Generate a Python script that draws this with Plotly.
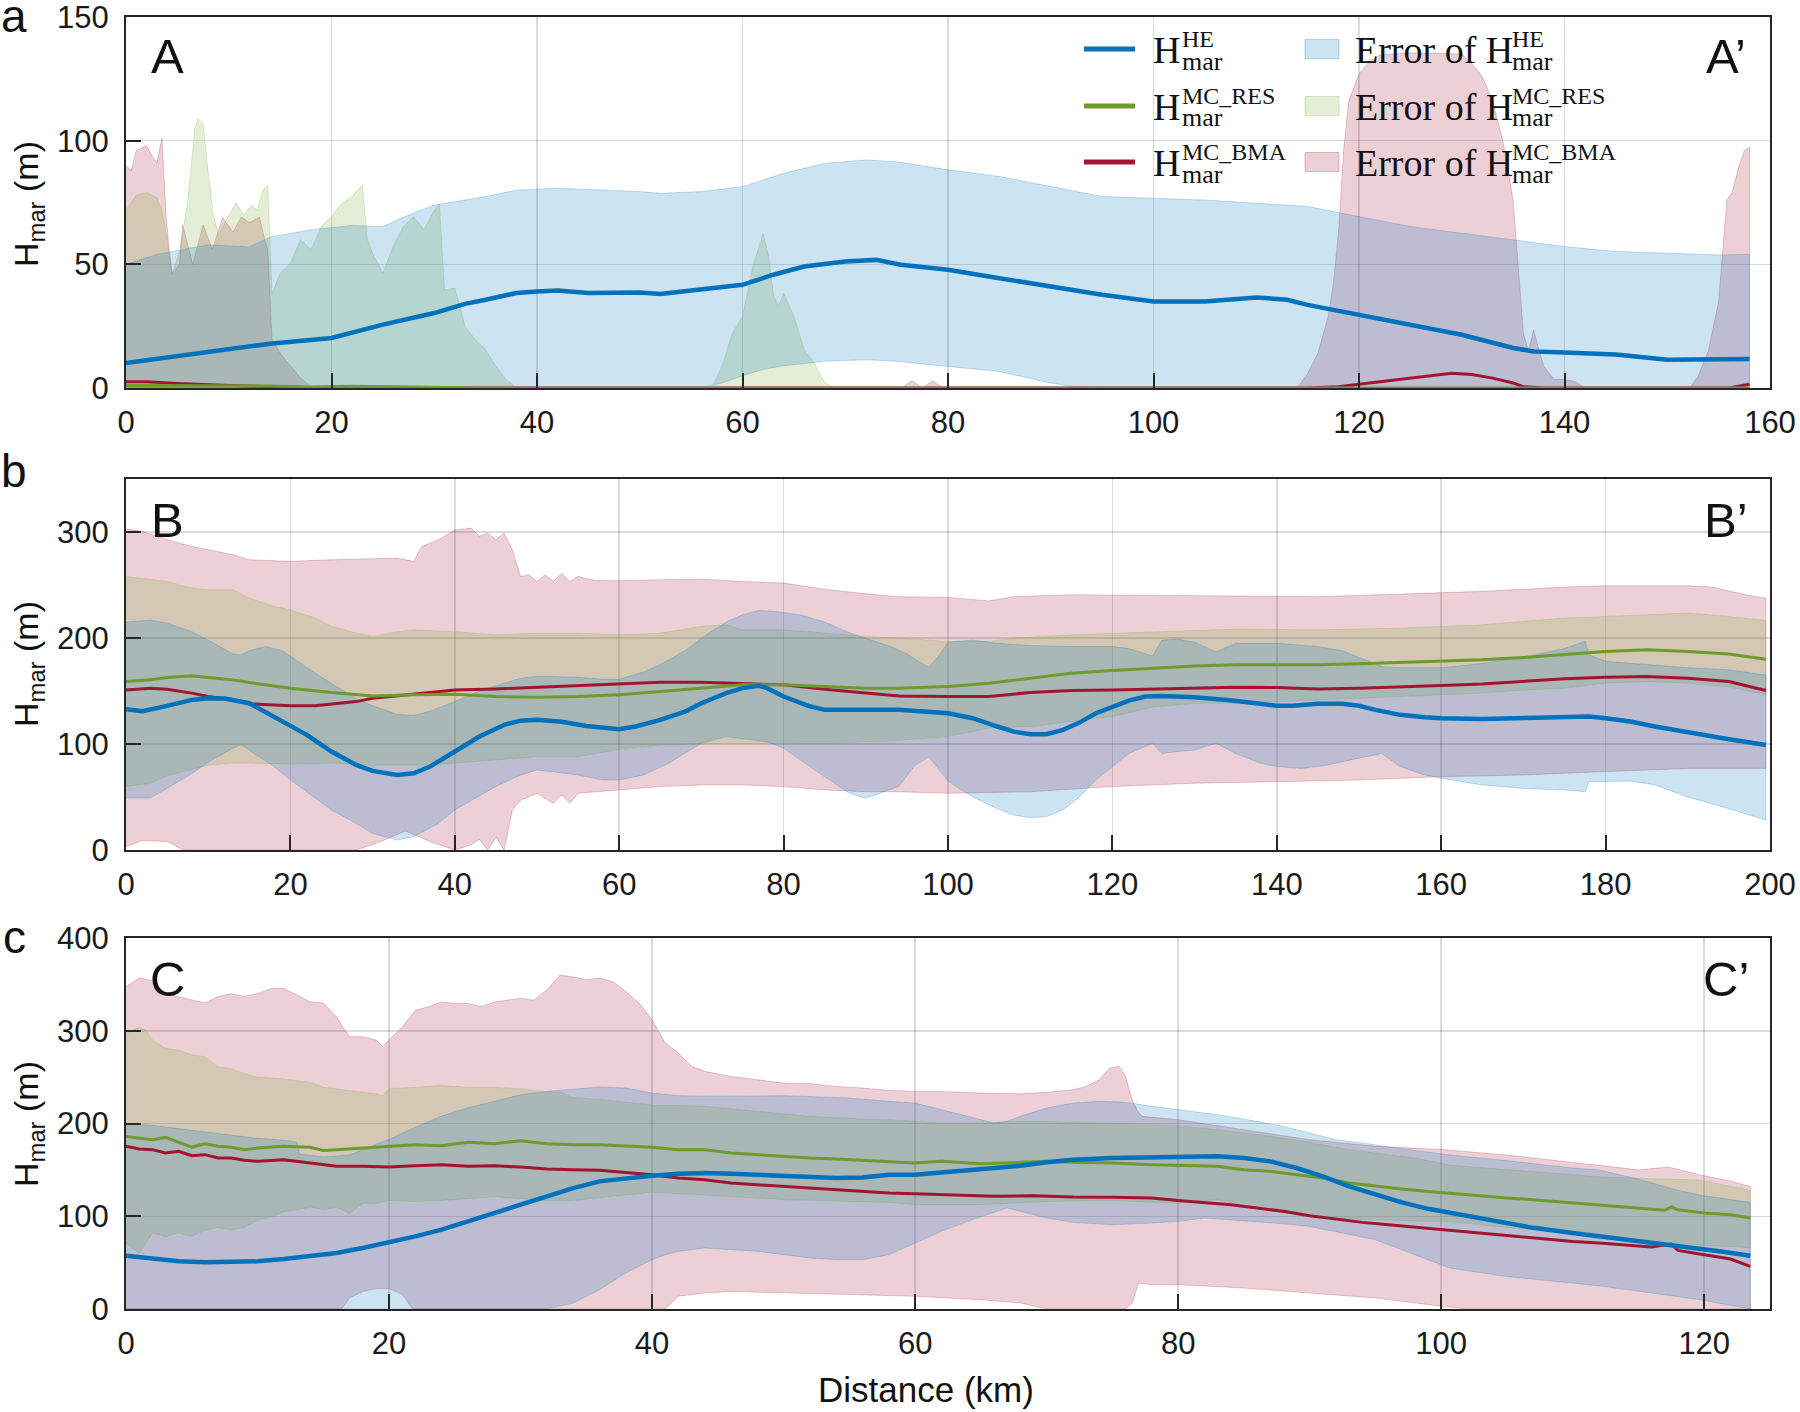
import plotly.graph_objects as go

# ---------------- Panel a ----------------
AX_HE = [0,5,10,14,20,25,30,33,35,38,40,42,45,48,50,52,55,58,60,63,66,70,73,75.4,80,85,90,95,100,105,110,113,115,120,125,130,135,137,140,145,150,155,158]
A_HE = [10.1,13,15.7,17.9,20.2,25.6,30.3,34,35.7,38.4,39,39.4,38.4,38.6,38.6,38,39.4,40.4,41.7,45.8,49.1,51.1,51.8,49.8,47.8,44.4,41,37.7,35,35,36.6,35.7,33.6,29.6,25.6,21.5,16.2,14.8,14.4,13.5,11.4,11.4,11.7]
AX_RES = [0,5,10,14,18,22,26,30,34,158]
A_RES = [1,1,1,0.8,0.4,0.7,0.5,0.3,0,0]
AX_BMA = [0,2,5,8,10,15,18,115,118,120,123,126,129,131,133,135,136,138,156,158]
A_BMA = [2.5,2.5,1.8,1.2,1,0.5,0,0,0.5,1.5,3,4.5,6,5.5,4,2,0.5,0,0,1.5]

AX_HE_UP = [0,3,8,12,14,18,22,25,27,30,35,38,42,50,52,56,60,64,68,72,75,80,85,90,95,100,105,110,115,120,125,130,135,140,145,150,155,158]
A_HE_UP = [50,54,57.9,57,61,64,65.7,65.3,69,74,77.4,80,80.8,79.4,78.7,79.4,81.4,86.8,90.8,92.2,91.5,88.2,85.5,81.4,77.4,76.7,76,74.7,73.4,69.3,65.3,62.6,59.9,57.2,55.2,54.5,53.8,54]
AX_HE_LO = [0,56,58,60,62,64,65,68,72,75,80,85,90,92,95,158]
A_HE_LO = [0,0,2,5,7.5,9,9.4,10.8,11.4,10.8,8.7,6.7,2,0.7,0,0]

AX_RES_UP = [0,1,2,3,3.5,4,4.5,5.2,6,6.7,7,7.5,8,8.5,9,9.5,10,10.7,11.5,12.2,12.8,13.3,13.8,14.2,15,16,17,18,19,20,21,22,23,23.5,24,25,26,27,28,29,30,30.5,31,32,33,34,35,36,37,38,57,58,59,60,61,62,62.5,63,63.5,64,65,66,67,68,69,158]
A_RES_UP = [72,78,79,77,72,60,46,55,75,105,109,107,87,70,62,66,70,75,70,74,72,80,82,38,46.4,50.5,60,55.9,65.3,69.3,74.7,77.4,82.1,60,54.5,46.4,57.2,65.3,69.3,64,72,74.4,39.7,40.4,24.9,19.5,15.5,8.7,3.4,0,0,8.7,22,29,49,62.6,54,38,33,38.4,29,15.5,10,2,0,0]
AX_RES_LO = [0,158]
A_RES_LO = [0,0]

AX_BMA_UP = [0,0.5,1,2,2.5,3,3.5,3.9,4.2,4.5,5.2,5.5,6.5,7.5,8.4,9.4,10.4,11.2,12,13,13.5,13.8,14.2,15,16,17,18,18.5,
             75.5,76.5,77.5,78.5,79.5,
             114,115,116,117,117.5,118,118.5,119,120,121,122,125,130,131,132,133,134,135,135.5,136,136.5,137,137.5,138,139,140,141,142,
             152.2,153,154,155,155.8,156.3,157,157.5,158]
A_BMA_UP = [90,88,96,98,94,91,101,70,56,46,50,66,50,66,56,69,63,69,67,69,60,56,20,14,9,4,0.5,0,
            0,3,0,3,0,
            0,6,14,29,42,62.6,96,116,127,132,134.6,135.5,135,131,126,116,100,76,49,22,15,23.5,15.5,8.7,3.4,3.4,2.7,0,
            0,5,15,35,76,79,90,96,97.5]
AX_BMA_LO = [0,158]
A_BMA_LO = [0,0]

# ---------------- Panel b ----------------
BX_HE = [0,2,5,8,10,12,15,18,20,22,25,28,30,33,35,37,40,43,46,48,50,53,56,60,62,65,68,70,73,75,77,78,80,83,85,87,90,94,100,103,106,108,110,112,114,116,118,120,122,124,126,130,134,138,140,142,145,148,150,152,155,158,160,165,170,175,178,180,183,186,190,195,199.5]
B_HE = [132.8,131,136,141.6,143.2,143,138.5,126,118,108.6,92.9,80.3,74.6,70.8,72.4,78.7,92.9,107,118,122,122.8,121,117,114,116.5,122.8,130.6,138.5,148,152.7,154.9,152.7,144.8,136,132.2,132.2,132.8,132.2,129,124.3,116.5,111.7,109.2,109.2,113.3,120.2,129,135.3,141,144.8,145.4,144.2,141.6,137.9,136,136,137.9,137.9,136,132.2,127.5,125.3,124.3,123.7,124.3,125.3,126,124.3,121.2,116.5,110.8,104.5,99]
BX_RES = [0,3,5,8,10,13,15,18,20,25,28,30,35,40,45,50,55,60,65,70,75,80,85,90,94,100,105,110,115,120,125,130,135,140,145,150,155,160,165,170,175,178,180,185,190,195,199.5]
B_RES = [159,160.5,162.7,164.3,162.7,160.5,158,154.9,152.7,148.6,146.4,145.4,146.4,147,144.8,144.2,144.8,146.4,149.5,152.7,155.8,155.8,154.2,152.7,152.7,154.2,157.4,162,166.8,169.3,171.5,173.7,174.7,174.7,174.7,175.6,176.9,178.5,179.4,181.6,184.1,186.3,187.3,188.8,187.3,185,180]
BX_BMA = [0,3,5,8,10,13,15,18,20,23,25,28,30,35,40,45,50,55,60,65,70,75,80,85,90,94,100,105,110,115,120,125,130,135,140,145,150,155,160,165,170,175,180,185,190,195,199.5]
B_BMA = [151,152.7,151.7,148,144.8,141.6,137.9,136.9,136,136,137.5,140,143.2,147,151,152,153.6,154.9,156.4,158.3,158.3,157.4,155.8,151.7,148,145.4,144.8,144.8,148.6,150.5,151,152,153.3,153.6,153.3,152,152.7,153.6,155.2,156.7,159,161.5,163,163.7,162,159,150.5]

BX_BMA_UP = [0,2,5,8,10,13,15,18,20,25,30,33,35,36,38,40,42,43,44,45,46,47,48,49,50,51,52,53,54,55,57,60,65,70,75,80,85,90,94,100,105,108,115,125,135,145,155,165,175,180,190,193,197,199.5]
B_BMA_UP = [303,300.6,292.7,286.4,283.3,278.6,273.8,273.2,272.3,273.8,274.5,275.4,272.3,286.4,292.7,302,303.7,296,299,292.7,299,283,258,259.7,253.4,259.7,253.4,261,253.4,258,254.3,254,255,255.6,253.4,251.8,246,241.7,239,238.3,235,239,240.8,240.2,240.2,239,241.4,244,248,249.3,249.3,248,240.8,237.6]
BX_BMA_LO = [0,2,5,7,28,31,34,37,40,42,43,44,45,46,47,48,50,52,53,54,55,57,60,65,70,75,80,85,90,94,100,110,120,130,140,150,160,170,180,190,199.5]
B_BMA_LO = [3,9,8,0,0,8,18,8,0,5,10,0,12,0,37.8,47,53.5,44,52,44,53.5,55,56.7,59.8,61.4,61.4,59.8,56.7,55,55,53.5,55,59.8,63,64.5,66,69.2,70.8,74,77,77]

BX_RES_UP = [0,3,5,8,10,13,15,18,20,23,25,28,30,33,35,40,45,50,55,60,65,70,73,75,80,85,90,94,100,105,108,115,125,135,145,155,165,175,180,185,190,195,199.5]
B_RES_UP = [258,255,253.4,247,245.5,245.5,237.6,229.8,226.6,218.8,211,204.6,201.4,206,207.7,206,203,204.6,204.6,203,204.6,211,212.5,207.7,207.7,204.6,201.4,200,196.7,196.7,200,203,206,208.4,207.7,209.3,212.5,218.8,220.3,222,223.5,220.3,216.6]
BX_RES_LO = [0,3,5,8,10,13,15,20,25,30,35,40,45,50,55,60,65,70,75,80,85,90,95,100,105,110,115,120,125,130,135,140,145,150,155,160,165,170,175,180,185,190,195,199.5]
B_RES_LO = [60,63,70,76,80,82,82,81,82,80,80,82,85,88,88,95,99,100,100,101,100,102,104,107,115,116.5,121,126,135,138.5,138.5,140,141,143,144.8,146.4,148,151,152.7,157.4,159,157.4,154,146.4]

BX_HE_UP = [0,3,5,8,10,13,14,15,17,19,20,22,25,28,30,33,35,37,40,43,45,48,50,55,58,60,63,65,68,70,73,75,77,79,82,85,88,90,93,95,97.7,99,100,103,106,110,115,120,122,124.9,126,128,130,132.6,135,140,145,148,150,152.8,155,160,165,170,175,177.5,178,180,185,190,195,199.5]
B_HE_UP = [215,217,214,206,198,185,184,188,192,188,183,172,157,143,136,128,127,131,140,150,155,162,164,163,161,161,168,175,188,200,215,222,226,225,222,215,205,200,192,185,172,185,196,198,195,193,192,192,190,183,198,199,196,187,195,195,192,188,182,173,172,172,176,182,190,197,184,178,175,172,170,165]
BX_HE_LO = [0,3,5,8,10,13,14,15,18,20,25,28,30,33,35,38,40,45,48,50,55,58,60,63,66,70,73,75,78,80,85,88,90,94,96,97.7,99,100,103,106,108,110,112,114,116,118,120,122,124.9,126,128,130,132.6,135,138,140,143,146,150,152.8,155,158,160,165,170,175,177.5,178,180,183,186,190,195,199.5]
B_HE_LO = [49,49,58,72,83,96,99,94,78.7,66,37.8,25,15.7,9.4,12.6,25,37.8,60,70.8,75.5,70.8,66,66,70.8,81.8,100.7,107,105,102,96,69,53.5,48.8,60,80,88,75,65,50,39,33,30.5,31.5,37.8,50,66,78.7,91,100.7,91,93,94.4,100.7,91,81.8,78.7,77,80,86.6,91,78.7,70.8,67.7,61.4,58,56.7,55,64.5,64.5,65,61.4,50,39,28.3]

# ---------------- Panel c ----------------
CX_HE = [0,2,4,6,8,10,12,14,16,18,20,22,24,26,28,30,32,34,36,38,40,42,44,46,48,50,52,54,56,58,60,63,66,68,70,72,75,78,80,83,85,87,89,91,93,95,97,99,101,103,105,107,110,113,116,119,121,123.5]
C_HE = [57.5,53.9,51.4,50.3,50.3,51.4,53.9,56.8,60.4,65.8,71.9,78.3,85.5,94.5,103.5,112.5,121.5,130.4,137.6,141.2,143.7,145.9,146.6,145.9,144.8,143,141.9,141.2,141.9,144.8,144.8,148.4,150.9,154.5,158.1,161,162.8,163.5,163.9,164.6,162.8,159.2,152,143,132.2,123,115,108,103,97.5,92,87.5,82,77,71,66,62.5,57.5]
CX_RES = [0,1,2,3,4,5,6,7,8,9,10,12,14,15,16,18,20,22,24,26,28,30,32,34,36,38,40,42,44,46,48,50,52,54,56,58,60,62,65,68,70,72,75,78,80,83,85,87,89,91,93,95,97,99,101,103,105,107,110,113,115,117,117.5,118,120,122,123.5]
C_RES = [186,184,182.5,185,179.7,174.6,178.2,175.4,174.3,171.8,173.6,175.4,174.3,171,171.8,173.6,175.4,177,176,179.7,178.2,181.5,178.2,177,177,175.4,174.3,171.8,171.8,168.2,166.4,163.9,162.8,161.7,160.3,159.2,157.4,159.2,156.7,158.1,159.2,158.1,157.4,155.6,154.9,153.8,150.2,148.4,144.8,141.2,135.8,132.2,129.4,126.8,124.3,122.2,119.7,117.9,114.3,110.7,108.9,106.4,110,107,103.5,101.7,98.1]
CX_BMA = [0,1,2,3,4,5,6,7,8,9,10,12,14,16,18,20,22,24,26,28,30,32,34,36,38,40,42,44,46,48,50,52,54,56,58,60,63,66,69,72,75,78,80,82,84,86,88,90,92,94,96,98,100,102,104,106,108,110,112,114,116,117.5,118,120,122,123.5]
C_BMA = [175.4,172.5,171.8,168.2,170,165.3,166.4,162.8,162.8,160.3,159.2,161,157.4,153.8,153.8,153,154.5,155.6,153.8,154.5,153,150.9,150.2,149.5,147.3,144.8,141.2,139.4,135.8,134,132.2,130.4,127.9,126.8,125,124.3,123.2,121.5,122.2,120.7,120.4,119.7,117.1,115,112.5,108.9,105.3,100.6,97,93.4,90.9,88.4,85.5,82.6,80.1,77.6,75.5,72.9,71.1,69.3,66.8,70,63.2,58.6,53.9,46]

CX_BMA_UP = [0,1,2,3,4,5,6,7,8,9,10,11,12,13,14,15,16,16.5,17,18,19,19.5,20,21,22,23,24,25,26,27,28,29,30,31,32,33,34,35,36,37,38,39,40,41,42,43,44,46,48,50,52,54,56,58,60,62,65,68,70,72,73,74,74.8,75.5,76,76.5,77,77.3,80,85,90,95,100,105,110,112,115,117.3,119.7,122,123.5]
C_BMA_UP = [347.5,357,354,340,336.6,333,330,337,340,337,340,345.6,345.6,338.5,331.3,330,315,304,293.5,293.5,290,283,290,304,322,326,331,329.5,329.5,326,331,333,335,333,344,360,358,355,356.8,353.2,342.4,329.9,311.9,286.7,276,261.6,256.2,250.8,247.2,243.6,242.9,240,238.2,235.7,234.6,234.6,232.8,232.1,233.6,236.4,240,247.2,259.8,261.6,250.8,225.6,211.3,207.7,204,193,182.5,175.4,172,166,158,155,150,153,144.5,138,132]
CX_BMA_LO = [0,16.4,17,18,19,20,21,21.8,41,42,44,46,50,55,58,60,65,68,70,76,76.5,77,78,80,85,90,95,100,102,123.5]
C_BMA_LO = [0,0,12,19,22,22,16,0,0,13.7,17.2,19,17.2,15.5,14.4,13.7,10,6.5,0,0,6.5,28,26.2,26.2,22.6,17.2,11.9,2.9,0,0]

CX_RES_UP = [0,1,1.5,2,3,4,5,6,7,8,9,10,12,13,14,15,17,19,19.5,20,22,24,26,28,30,32,33,34,36,38,40,44,48,52,56,58,60,62,65,68,70,72,75,78,80,83,86,88,90,93,95,98,100.7,105,110,112,115,119.7,123.5]
C_RES_UP = [297,304,301,290,281,279,274,272,261,259,254,250,248,246.5,244.6,239,235.5,232,230,237.5,239,241,239,239,237.5,234,234,228,226,223,220,218.5,213,207.7,204.8,204,202.3,200.5,200.5,202.3,202.3,201,200.5,198.7,197.6,193.3,187.9,184.3,179.7,171.8,168.2,162.8,155,150,145,142.6,141,139,128]
CX_RES_LO = [0,1,2,3,4,5,6,7,8,9,10,11,12,13,14,15,16,17,18,19,20,22,24,26,28,30,32,34,40,45,50,55,58,60,65,70,75,80,83,85,88,90,93,95,98,100.7,105,110,112,115,119.7,123.5]
C_RES_LO = [71,60,82,78,82,78.5,85,88,85,88,96,99,105,107,110,107,110,103,114,114,117,116,117,119,121,119,117,117,126,122,118,116,115,112.5,112.5,116,117,114,118,110.7,103.5,100,97,96,95,94,88,82,78,75,69,66]

CX_HE_UP = [0,2,4,6,8,10,12,13,13.2,15,17,18,20,22,24,26,28,30,32,34,36,38,40,42,45,50,55,58,60,62,64,66,67,68,70,72,74,76,78,80,83,86,88,90,92,94,96,98,100.7,105,110,112,115,118,120,123.5]
C_HE_UP = [200,198,194.5,191,187.5,184,182,180,167,164,166,172,183,196,208,217,224,231,234.6,237,239.4,238.2,232.8,230,229.2,230,227.5,223.9,222,214.9,207.7,200.5,202.3,207.7,216.7,222,224,222.8,218.5,214.9,209.5,202.3,196.9,189.7,182.5,179,175.4,171,166,160,152,150,140,128,122,115]
CX_HE_LO = [0,32,34,36,38,40,41,42,44,46,48,50,52,54,56,58,60,62,64,66,67,68,70,72,75,78,80,82,85,88,90,95,100.7,105,112,119.7,123.5]
C_HE_LO = [0,0,6.5,20.8,38.8,53.2,58.6,62.2,65.8,64,62.2,58.6,55,53.2,53.2,58.6,71.1,83.7,94.5,104.2,108.9,105.3,98.1,93.4,90.9,92.7,94.5,98.1,95,92,89,74.7,44,35,25,10,0]

X_TICKS_A = [0,20,40,60,80,100,120,140,160]
X_TICKS_B = [0,20,40,60,80,100,120,140,160,180,200]
X_TICKS_C = [0,20,40,60,80,100,120]
Y_TICKS_A = [0,50,100,150]
Y_TICKS_B = [0,100,200,300]
Y_TICKS_C = [0,100,200,300,400]

SERIES_NAMES = ["HE", "MC_RES", "MC_BMA"]

pairs = [(AX_HE,A_HE),(AX_RES,A_RES),(AX_BMA,A_BMA),(AX_HE_UP,A_HE_UP),(AX_HE_LO,A_HE_LO),
         (AX_RES_UP,A_RES_UP),(AX_RES_LO,A_RES_LO),(AX_BMA_UP,A_BMA_UP),(AX_BMA_LO,A_BMA_LO),
         (BX_HE,B_HE),(BX_RES,B_RES),(BX_BMA,B_BMA),(BX_BMA_UP,B_BMA_UP),(BX_BMA_LO,B_BMA_LO),
         (BX_RES_UP,B_RES_UP),(BX_RES_LO,B_RES_LO),(BX_HE_UP,B_HE_UP),(BX_HE_LO,B_HE_LO),
         (CX_HE,C_HE),(CX_RES,C_RES),(CX_BMA,C_BMA),(CX_BMA_UP,C_BMA_UP),(CX_BMA_LO,C_BMA_LO),
         (CX_RES_UP,C_RES_UP),(CX_RES_LO,C_RES_LO),(CX_HE_UP,C_HE_UP),(CX_HE_LO,C_HE_LO)]
for i, (px_, py_) in enumerate(pairs):
    if len(px_) != len(py_):
        raise ValueError("length mismatch in pair %d: %d vs %d" % (i, len(px_), len(py_)))

# ---------------- styling ----------------
W, H = 1800, 1412
BLUE = (0, 114, 189)
GREEN = (119, 172, 48)
RED = (162, 20, 47)
LINE_GREEN = "rgb(110,155,45)"

def rgba(c, a):
    return "rgba(%d,%d,%d,%s)" % (c[0], c[1], c[2], a)

def PX(x):
    return x / W

def PY(y):
    return 1 - y / H

fig = go.Figure()

def band(xu, yu, xl, yl, col, xa, ya):
    fig.add_trace(go.Scatter(
        x=list(xu) + list(xl)[::-1], y=list(yu) + list(yl)[::-1],
        fill="toself", fillcolor=rgba(col, 0.2), mode="lines",
        line=dict(color=rgba(col, 0.22), width=1),
        hoverinfo="skip", showlegend=False, xaxis=xa, yaxis=ya))

def line(x, y, color, w, xa, ya):
    fig.add_trace(go.Scatter(x=x, y=y, mode="lines", line=dict(color=color, width=w),
                             hoverinfo="skip", showlegend=False, xaxis=xa, yaxis=ya))

panels = [
    ("x", "y", [(AX_BMA_UP, A_BMA_UP, AX_BMA_LO, A_BMA_LO, RED),
                (AX_RES_UP, A_RES_UP, AX_RES_LO, A_RES_LO, GREEN),
                (AX_HE_UP, A_HE_UP, AX_HE_LO, A_HE_LO, BLUE)],
     [(AX_BMA, A_BMA), (AX_RES, A_RES), (AX_HE, A_HE)]),
    ("x2", "y2", [(BX_BMA_UP, B_BMA_UP, BX_BMA_LO, B_BMA_LO, RED),
                  (BX_RES_UP, B_RES_UP, BX_RES_LO, B_RES_LO, GREEN),
                  (BX_HE_UP, B_HE_UP, BX_HE_LO, B_HE_LO, BLUE)],
     [(BX_BMA, B_BMA), (BX_RES, B_RES), (BX_HE, B_HE)]),
    ("x3", "y3", [(CX_BMA_UP, C_BMA_UP, CX_BMA_LO, C_BMA_LO, RED),
                  (CX_RES_UP, C_RES_UP, CX_RES_LO, C_RES_LO, GREEN),
                  (CX_HE_UP, C_HE_UP, CX_HE_LO, C_HE_LO, BLUE)],
     [(CX_BMA, C_BMA), (CX_RES, C_RES), (CX_HE, C_HE)]),
]
line_styles = [(rgba(RED, 1), 3), (LINE_GREEN, 3), (rgba(BLUE, 1), 4.5)]
for xa, ya, bands, lines in panels:
    for b in bands:
        band(*b, xa, ya)
    for (lx, ly), (c, w) in zip(lines, line_styles):
        line(lx, ly, c, w, xa, ya)

TICK_FONT = dict(family="Liberation Sans, Arial, sans-serif", size=31, color="#1a1a1a")
ax_common = dict(showline=True, linecolor="#262626", linewidth=2, mirror=True,
                 ticks="inside", ticklen=15, tickwidth=2, tickcolor="#262626",
                 showgrid=True, gridcolor="rgba(40,40,40,0.17)", gridwidth=1.5,
                 zeroline=False, tickfont=TICK_FONT, fixedrange=True, automargin=False,
                 ticklabeloverflow="allow")

XD = [126 / W, 1770 / W]
doms = [[PY(388), PY(17)], [PY(850), PY(479)], [PY(1309), PY(938)]]
xr = [[0, 160], [0, 200], [0, 125]]
yr = [[0, 150], [0, 350], [0, 400]]
xt = [X_TICKS_A, X_TICKS_B, X_TICKS_C]
yt = [Y_TICKS_A, Y_TICKS_B, Y_TICKS_C]

layout = dict(width=W, height=H, margin=dict(l=0, r=0, t=0, b=0, autoexpand=False),
              paper_bgcolor="white", plot_bgcolor="white", showlegend=False)
for i in range(3):
    sx = "" if i == 0 else str(i + 1)
    layout["xaxis" + sx] = dict(ax_common, domain=XD, range=xr[i], tickvals=xt[i],
                                anchor="y" + sx, ticklabelstandoff=6)
    layout["yaxis" + sx] = dict(ax_common, domain=doms[i], range=yr[i], tickvals=yt[i],
                                anchor="x" + sx, ticklabelstandoff=9)
fig.update_layout(**layout)

ann = []
SANS = "Liberation Sans, Arial, sans-serif"
SERIF = "Liberation Serif, Times New Roman, serif"

def text(x, y, s, size, family=SANS, xanchor="center", yanchor="middle", angle=0):
    ann.append(dict(x=PX(x), y=PY(y), xref="paper", yref="paper", text=s, showarrow=False,
                    font=dict(family=family, size=size, color="#111111"),
                    xanchor=xanchor, yanchor=yanchor, textangle=angle))

# panel letters
for lab, y in [("a", 16), ("b", 471), ("c", 937)]:
    text(14, y, lab, 46)
# section labels
for lab, y in [("A", 56), ("B", 520), ("C", 979)]:
    text(167, y, lab, 49)
    text(1726, y, lab + "’", 49)
# y titles
for y in [204, 664, 1124]:
    text(28, y, "H<sub>mar</sub> (m)", 34, angle=-90)
text(926, 1389, "Distance (km)", 35)

# legend
rows = [49, 106, 162]
cols = [BLUE, GREEN, RED]
line_cols = [rgba(BLUE, 1), LINE_GREEN, rgba(RED, 1)]
shapes = []
for r, name, c, lc in zip(rows, SERIES_NAMES, cols, line_cols):
    shapes.append(dict(type="line", xref="paper", yref="paper", x0=PX(1084), x1=PX(1135),
                       y0=PY(r), y1=PY(r), line=dict(color=lc, width=5)))
    shapes.append(dict(type="rect", xref="paper", yref="paper", x0=PX(1305), x1=PX(1339),
                       y0=PY(r + 9.5), y1=PY(r - 9.5), fillcolor=rgba(c, 0.2),
                       line=dict(color=rgba(c, 0.25), width=1)))
    text(1151, r + 1, "H", 38, family=SERIF, xanchor="left")
    text(1180, r - 10, name, 24, family=SERIF, xanchor="left")
    text(1180, r + 12, "mar", 26, family=SERIF, xanchor="left")
    text(1353, r + 1, "Error of H", 38, family=SERIF, xanchor="left")
    text(1510, r - 10, name, 24, family=SERIF, xanchor="left")
    text(1510, r + 12, "mar", 26, family=SERIF, xanchor="left")

fig.update_layout(annotations=ann, shapes=shapes)
fig.write_html("out.html", config={"displayModeBar": False, "staticPlot": True},
               post_script="document.body.style.margin='0px';document.body.style.padding='0px';")
